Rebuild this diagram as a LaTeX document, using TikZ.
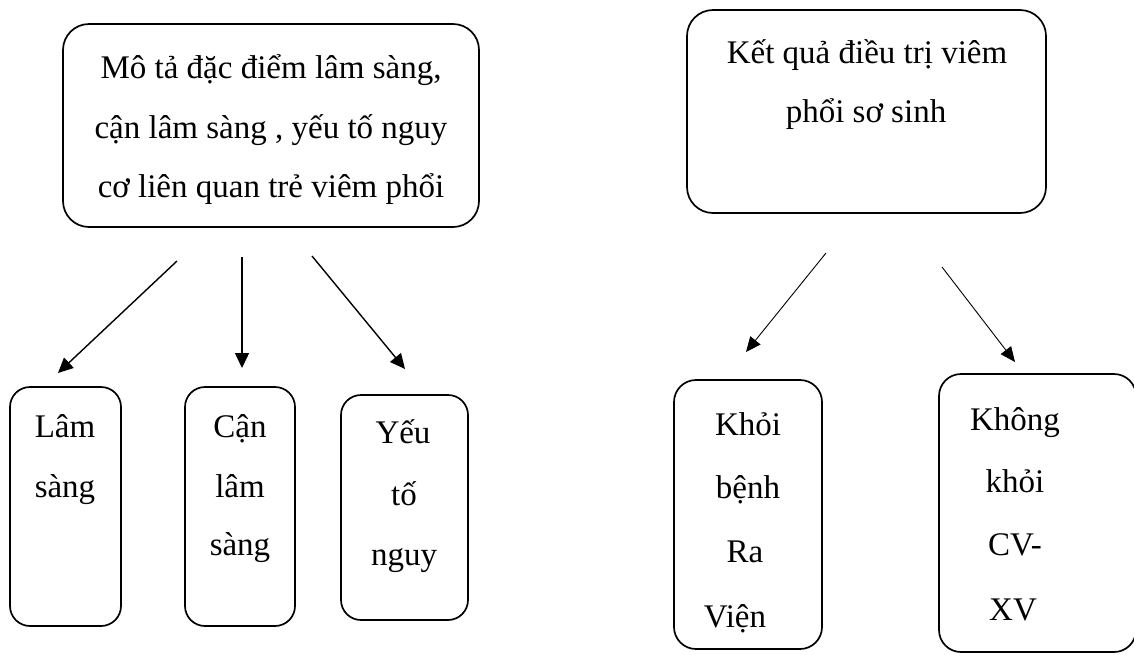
\documentclass[tikz,border=0pt]{standalone}
\usepackage{fontspec}
\setmainfont{Liberation Serif}
\usetikzlibrary{arrows.meta}
\begin{document}
\begin{tikzpicture}[x=1pt,y=-1pt,
  rbox/.style={draw,line width=1.7pt,inner sep=0pt,outer sep=0pt},
  txt/.style={anchor=base,inner sep=0pt,font=\fontsize{33}{40}\selectfont},
  arr/.style={line width=1.4pt,-{Triangle[length=15pt,width=14pt]}},
  thinarr/.style={line width=0.9pt,-{Triangle[length=15pt,width=13pt]}}]
\useasboundingbox (0,0) rectangle (1134,654);
\fill[white] (0,0) rectangle (1134,654);
\clip (0,0) rectangle (1134,654);
% left group
\node[rbox,rounded corners=26pt,minimum width=416pt,minimum height=203pt] (top1) at (271,125.5) {};
\node[txt] (t1a) at (271,78) {Mô tả đặc điểm lâm sàng,};
\node[txt] (t1b) at (271,138) {cận lâm sàng , yếu tố nguy};
\node[txt] (t1c) at (271,197) {cơ liên quan trẻ viêm phổi};
\node[rbox,rounded corners=20pt,minimum width=111pt,minimum height=239pt] (ls) at (65.5,506.5) {};
\node[txt] (ls1) at (65,437) {Lâm};
\node[txt] (ls2) at (65,497) {sàng};
\node[rbox,rounded corners=20pt,minimum width=110pt,minimum height=239pt] (cls) at (240,506.5) {};
\node[txt] (cls1) at (240,437) {Cận};
\node[txt] (cls2) at (240,497) {lâm};
\node[txt] (cls3) at (240,555) {sàng};
\node[rbox,rounded corners=20pt,minimum width=127pt,minimum height=225pt] (ytn) at (404.5,507.5) {};
\node[txt] (ytn1) at (403,443) {Yếu};
\node[txt] (ytn2) at (404,505) {tố};
\node[txt] (ytn3) at (404,565) {nguy};
\coordinate (a1s) at (177,261); \coordinate (a1e) at (58,373);
\coordinate (a2s) at (242,257); \coordinate (a2e) at (242,368);
\coordinate (a3s) at (312,256); \coordinate (a3e) at (405,369);
\draw[arr] (a1s) -- (a1e);
\draw[arr] (a2s) -- (a2e);
\draw[arr] (a3s) -- (a3e);
% right group
\node[rbox,rounded corners=26pt,minimum width=359pt,minimum height=203pt] (top2) at (866.5,111.5) {};
\node[txt] (t2a) at (867,63) {Kết quả điều trị viêm};
\node[txt] (t2b) at (866,122) {phổi sơ sinh};
\node[rbox,rounded corners=22pt,minimum width=148pt,minimum height=269pt] (kb) at (748,514.5) {};
\node[txt] (kb1) at (748,435) {Khỏi};
\node[txt] (kb2) at (748,498) {bệnh};
\node[txt] (kb3) at (745,562) {Ra};
\node[txt] (kb4) at (735,627) {Viện};
\node[rbox,rounded corners=22pt,minimum width=197pt,minimum height=278pt] (kk) at (1037.5,513) {};
\node[txt] (kk1) at (1015,430) {Không};
\node[txt] (kk2) at (1015,492) {khỏi};
\node[txt] (kk3) at (1015,555) {CV-};
\node[txt] (kk4) at (1013,620) {XV};
\coordinate (a4s) at (826,253); \coordinate (a4e) at (746,352);
\coordinate (a5s) at (942,267); \coordinate (a5e) at (1015,362);
\draw[thinarr] (a4s) -- (a4e);
\draw[thinarr] (a5s) -- (a5e);
\end{tikzpicture}
\end{document}
